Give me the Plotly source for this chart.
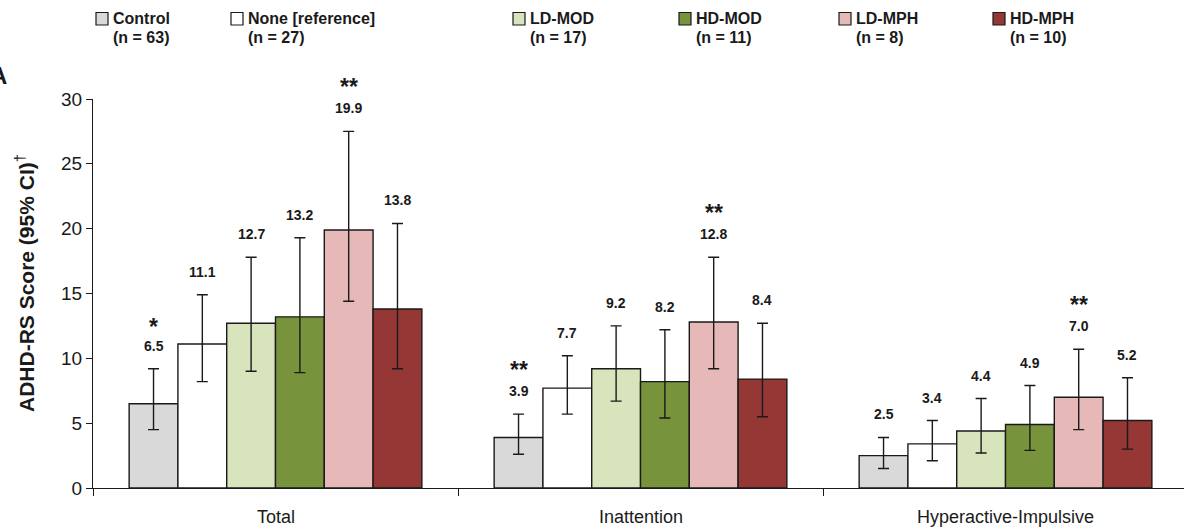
import plotly.graph_objects as go

categories = ["Total", "Inattention", "Hyperactive-Impulsive"]
groups = ["Control", "None [reference]", "LD-MOD", "HD-MOD", "LD-MPH", "HD-MPH"]
group_n = ["(n = 63)", "(n = 27)", "(n = 17)", "(n = 11)", "(n = 8)", "(n = 10)"]
colors = ["#D9D9D9", "#FFFFFF", "#D8E4BC", "#77933C", "#E6B9B8", "#953735"]

# mean scores per group across categories (Total, Inattention, Hyperactive-Impulsive)
control = [6.5, 3.9, 2.5]
none_ref = [11.1, 7.7, 3.4]
ld_mod = [12.7, 9.2, 4.4]
hd_mod = [13.2, 8.2, 4.9]
ld_mph = [19.9, 12.8, 7.0]
hd_mph = [13.8, 8.4, 5.2]

# 95% CI lower / upper bounds
control_lo = [4.5, 2.6, 1.5]
control_hi = [9.2, 5.7, 3.9]
none_lo = [8.2, 5.7, 2.1]
none_hi = [14.9, 10.2, 5.2]
ld_mod_lo = [9.0, 6.7, 2.7]
ld_mod_hi = [17.8, 12.5, 6.9]
hd_mod_lo = [8.9, 5.4, 2.9]
hd_mod_hi = [19.3, 12.2, 7.9]
ld_mph_lo = [14.4, 9.2, 4.5]
ld_mph_hi = [27.5, 17.8, 10.7]
hd_mph_lo = [9.2, 5.5, 3.0]
hd_mph_hi = [20.4, 12.7, 8.5]

# significance markers
control_sig = ["*", "**", ""]
none_sig = ["", "", ""]
ld_mod_sig = ["", "", ""]
hd_mod_sig = ["", "", ""]
ld_mph_sig = ["**", "**", "**"]
hd_mph_sig = ["", "", ""]

y_ticks = [0, 5, 10, 15, 20, 25, 30]

values = [control, none_ref, ld_mod, hd_mod, ld_mph, hd_mph]
lows = [control_lo, none_lo, ld_mod_lo, hd_mod_lo, ld_mph_lo, hd_mph_lo]
highs = [control_hi, none_hi, ld_mod_hi, hd_mod_hi, ld_mph_hi, hd_mph_hi]
sigs = [control_sig, none_sig, ld_mod_sig, hd_mod_sig, ld_mph_sig, hd_mph_sig]

FONT = "Liberation Sans Narrow, Arial Narrow, Liberation Sans, Arial, sans-serif"
REG = "Liberation Sans, Arial, sans-serif"
INK = "#1a1a1a"

W, H = 1184, 532
ML, MR, MT, MB = 93, 0, 99, 44
group_width = 0.802
bw = group_width / len(groups)

fig = go.Figure()
annotations = []
for j, g in enumerate(groups):
    xs = [i + (j - (len(groups) - 1) / 2) * bw for i in range(len(categories))]
    v = values[j]
    fig.add_trace(go.Bar(
        x=xs, y=v, width=bw, name=g,
        marker=dict(color=colors[j], line=dict(color=INK, width=1.4)),
        error_y=dict(type="data", symmetric=False,
                     array=[h - m for h, m in zip(highs[j], v)],
                     arrayminus=[m - l for m, l in zip(v, lows[j])],
                     color=INK, thickness=1.4, width=5.5),
        showlegend=False,
    ))
    for k, x in enumerate(xs):
        annotations.append(dict(x=x, y=highs[j][k], xref="x", yref="y",
                                text=f"<b>{v[k]:.1f}</b>", showarrow=False,
                                yanchor="middle", yshift=23,
                                font=dict(family=FONT, size=14, color=INK)))
        if sigs[j][k]:
            annotations.append(dict(x=x, y=highs[j][k], xref="x", yref="y",
                                    text=f"<b>{sigs[j][k]}</b>", showarrow=False,
                                    yanchor="middle", yshift=42 if len(sigs[j][k]) == 1 else 44,
                                    font=dict(family=REG, size=23, color=INK)))

for i, c in enumerate(categories):
    annotations.append(dict(x=i, y=0, xref="x", yref="paper", text=c, showarrow=False,
                            yanchor="middle", yshift=-29,
                            font=dict(family=FONT, size=18, color=INK)))

pw = W - ML - MR
ph = H - MT - MB


def px_x(p):
    return (p - ML) / pw


def px_y(p):
    return (H - MB - p) / ph


# custom legend layout (pixel positions)
legend_left = [96, 231, 513, 679, 839, 993]
shapes = []
for j, g in enumerate(groups):
    x0 = legend_left[j]
    shapes.append(dict(type="rect", xref="paper", yref="paper",
                       x0=px_x(x0), x1=px_x(x0 + 12), y0=px_y(25), y1=px_y(12.5),
                       fillcolor=colors[j], line=dict(color=INK, width=1.2)))
    annotations.append(dict(x=px_x(x0 + 15), y=px_y(19), xref="paper", yref="paper",
                            text=f"<b>{g}</b>", showarrow=False, xanchor="left", yanchor="middle",
                            font=dict(family=FONT, size=16, color=INK)))
    annotations.append(dict(x=px_x(x0 + 15), y=px_y(38), xref="paper", yref="paper",
                            text=f"<b>{group_n[j]}</b>", showarrow=False, xanchor="left", yanchor="middle",
                            font=dict(family=FONT, size=16, color=INK)))

# y-axis title
annotations.append(dict(x=px_x(25), y=px_y(283), xref="paper", yref="paper",
                        text="<b>ADHD-RS Score (95% CI)</b><sup>†</sup>", showarrow=False,
                        textangle=-90, xanchor="center", yanchor="middle",
                        font=dict(family=REG, size=21, color=INK)))
# panel letter
annotations.append(dict(x=px_x(9), y=px_y(75), xref="paper", yref="paper",
                        text="<b>A</b>", showarrow=False, xanchor="right", yanchor="middle",
                        font=dict(family=REG, size=24, color=INK)))

fig.update_layout(
    width=W, height=H,
    margin=dict(l=ML, r=MR, t=MT, b=MB, pad=0),
    paper_bgcolor="white", plot_bgcolor="white",
    barmode="overlay",
    annotations=annotations, shapes=shapes,
    xaxis=dict(range=[-0.5, 2.489], showgrid=False, zeroline=False,
               showline=True, linecolor=INK, linewidth=1.2,
               tickmode="array", tickvals=[-0.5, 0.5, 1.5], showticklabels=False,
               ticks="outside", ticklen=7, tickcolor=INK, tickwidth=1.2),
    yaxis=dict(range=[0, 30], showgrid=False, zeroline=False,
               showline=True, linecolor=INK, linewidth=1.2,
               tickmode="array", tickvals=y_ticks,
               ticks="outside", ticklen=6, tickcolor=INK, tickwidth=1.2,
               tickfont=dict(family=FONT, size=19, color=INK)),
)

fig.write_html("out.html")
